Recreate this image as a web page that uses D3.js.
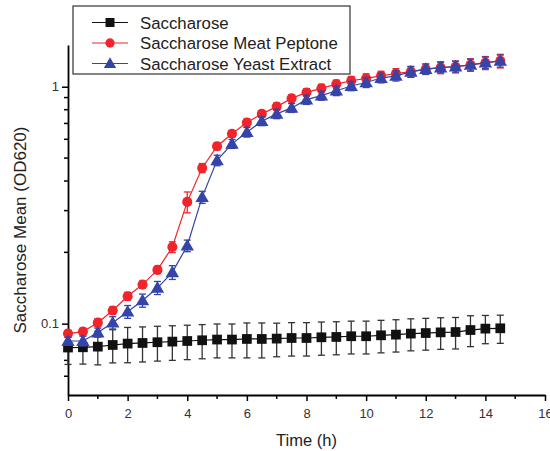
<!DOCTYPE html>
<html>
<head>
<meta charset="utf-8">
<script src="https://cdnjs.cloudflare.com/ajax/libs/d3/7.8.5/d3.min.js"></script>
<style>
  body { margin: 0; background: #fff; }
  text { font-family: "Liberation Sans", Arial, sans-serif; }
</style>
</head>
<body>
<svg id="chart"></svg>
<script>
const times = d3.range(0, 14.51, 0.5)

const saccharose = [0.0793, 0.0795, 0.0800, 0.0813, 0.0824, 0.0829, 0.0835, 0.0840, 0.0845, 0.0851,
    0.0857, 0.0857, 0.0862, 0.0862, 0.0865, 0.0870, 0.0870, 0.0876, 0.0879, 0.0885,
    0.0885, 0.0893, 0.0899, 0.0908, 0.0913, 0.0919, 0.0922, 0.0940, 0.0953, 0.0956]
const saccharoseErr = [0.012, 0.012, 0.013, 0.013, 0.014, 0.014, 0.014, 0.014, 0.014, 0.014,
    0.014, 0.014, 0.0145, 0.0145, 0.014, 0.014, 0.014, 0.014, 0.014, 0.014,
    0.014, 0.014, 0.014, 0.014, 0.014, 0.014, 0.014, 0.014, 0.013, 0.013]

const meatPeptone = [0.0908, 0.0926, 0.101, 0.1137, 0.1306, 0.1462, 0.1686, 0.2106, 0.3266, 0.454,
    0.561, 0.633, 0.706, 0.768, 0.824, 0.893, 0.946, 0.984, 1.026, 1.060,
    1.084, 1.112, 1.137, 1.159, 1.187, 1.205, 1.213, 1.237, 1.261, 1.285]
const meatPeptoneErr = [0.003, 0.003, 0.004, 0.004, 0.005, 0.005, 0.006, 0.011, 0.033, 0.02,
    0.02, 0.02, 0.025, 0.025, 0.03, 0.03, 0.035, 0.04, 0.04, 0.045,
    0.05, 0.05, 0.055, 0.06, 0.06, 0.07, 0.07, 0.075, 0.08, 0.085]

const yeastExtract = [0.0845, 0.0845, 0.0917, 0.101, 0.1123, 0.1253, 0.1417, 0.1647, 0.2133, 0.342,
    0.489, 0.574, 0.643, 0.715, 0.768, 0.814, 0.882, 0.917, 0.962, 1.007,
    1.042, 1.088, 1.112, 1.156, 1.187, 1.205, 1.217, 1.237, 1.264, 1.285]
const yeastExtractErr = [0.003, 0.004, 0.004, 0.006, 0.007, 0.008, 0.009, 0.011, 0.012, 0.02,
    0.025, 0.025, 0.03, 0.03, 0.035, 0.035, 0.04, 0.04, 0.045, 0.045,
    0.05, 0.05, 0.055, 0.06, 0.06, 0.06, 0.065, 0.07, 0.07, 0.075]

const xTicks = [0, 2, 4, 6, 8, 10, 12, 14, 16]
const yTicks = [0.1, 1]
const legendNames = ['Saccharose', 'Saccharose Meat Peptone', 'Saccharose Yeast Extract']

const width = 550
const height = 451
const svg = d3.select('#chart').attr('width', width).attr('height', height)

const xScale = d3.scaleLinear().domain([0, 16]).range([68, 545])
const yScale = d3.scaleLog().domain([0.05, 1.5]).range([395, 45])

const series = [
    {name: legendNames[0], values: saccharose, err: saccharoseErr, color: '#111111', shape: d3.symbolSquare, size: 95},
    {name: legendNames[1], values: meatPeptone, err: meatPeptoneErr, color: '#f0242a', shape: d3.symbolCircle, size: 80},
    {name: legendNames[2], values: yeastExtract, err: yeastExtractErr, color: '#3444a8', shape: d3.symbolTriangle, size: 78}
]

// axes
const xAxis = svg.append('g')
    .attr('transform', `translate(0,${yScale.range()[0]})`)
    .call(d3.axisBottom(xScale).tickValues(xTicks).tickSize(6).tickSizeOuter(0).tickFormat(d3.format('d')))
xAxis.selectAll('line.minor').data(d3.range(1, 16, 2)).enter().append('line')
    .attr('class', 'minor')
    .attr('x1', d => xScale(d)).attr('x2', d => xScale(d))
    .attr('y1', 0).attr('y2', 4)
    .attr('stroke', '#000').attr('stroke-width', 1.5)

const yMinor = [0.06, 0.07, 0.08, 0.09, 0.2, 0.3, 0.4, 0.5, 0.6, 0.7, 0.8, 0.9]
const yAxis = svg.append('g')
    .attr('transform', `translate(${xScale.range()[0]},0)`)
    .call(d3.axisLeft(yScale).tickValues(yTicks).tickSize(6).tickSizeOuter(0).tickFormat(d => d === 1 ? '1' : '0.1'))
yAxis.selectAll('line.minor').data(yMinor).enter().append('line')
    .attr('class', 'minor')
    .attr('y1', d => yScale(d)).attr('y2', d => yScale(d))
    .attr('x1', 0).attr('x2', -4)
    .attr('stroke', '#000').attr('stroke-width', 1.5)

svg.selectAll('.domain').attr('stroke', '#000').attr('stroke-width', 1.8)
svg.selectAll('.tick line').attr('stroke', '#000').attr('stroke-width', 1.5)
svg.selectAll('.tick text').attr('font-size', 13).attr('fill', '#333')
    .attr('font-family', '"Liberation Sans", Arial, sans-serif')
xAxis.selectAll('.tick text').attr('dy', '1.05em')

svg.append('text')
    .attr('x', (xScale(0) + xScale(16)) / 2)
    .attr('y', 446)
    .attr('text-anchor', 'middle')
    .attr('font-size', 16.5)
    .attr('fill', '#222')
    .text('Time (h)')

svg.append('text')
    .attr('transform', `translate(26,230) rotate(-90)`)
    .attr('text-anchor', 'middle')
    .attr('font-size', 17)
    .attr('fill', '#222')
    .text('Saccharose Mean (OD620)')

// series
const line = d3.line().x(d => xScale(d.t)).y(d => yScale(d.v))
series.forEach(s => {
    const pts = times.map((t, i) => ({t: t, v: s.values[i], e: s.err[i]}))
    const g = svg.append('g')
    g.append('path').datum(pts)
        .attr('d', line)
        .attr('fill', 'none')
        .attr('stroke', s.color)
        .attr('stroke-width', 1.2)
    const eb = g.selectAll('g.err').data(pts).enter().append('g')
        .attr('stroke', s.name === legendNames[0] ? '#333' : s.color)
        .attr('stroke-width', 1.3)
    eb.append('line')
        .attr('x1', d => xScale(d.t)).attr('x2', d => xScale(d.t))
        .attr('y1', d => yScale(d.v + d.e)).attr('y2', d => yScale(d.v - d.e))
    eb.append('line')
        .attr('x1', d => xScale(d.t) - 3.5).attr('x2', d => xScale(d.t) + 3.5)
        .attr('y1', d => yScale(d.v + d.e)).attr('y2', d => yScale(d.v + d.e))
    eb.append('line')
        .attr('x1', d => xScale(d.t) - 3.5).attr('x2', d => xScale(d.t) + 3.5)
        .attr('y1', d => yScale(d.v - d.e)).attr('y2', d => yScale(d.v - d.e))
    g.selectAll('path.mark').data(pts).enter().append('path')
        .attr('class', 'mark')
        .attr('d', d3.symbol().type(s.shape).size(s.size))
        .attr('transform', d => `translate(${xScale(d.t)},${yScale(d.v) + (s.shape === d3.symbolTriangle ? 1 : 0)})`)
        .attr('fill', s.color)
})

// legend
const legend = svg.append('g')
legend.append('rect')
    .attr('x', 73).attr('y', 6).attr('width', 277).attr('height', 68)
    .attr('fill', '#fff').attr('stroke', '#333').attr('stroke-width', 1.2)
series.forEach((s, i) => {
    const ly = 22.5 + i * 20.5
    legend.append('line')
        .attr('x1', 92).attr('x2', 128).attr('y1', ly).attr('y2', ly)
        .attr('stroke', s.color).attr('stroke-width', 1.2)
    legend.append('path')
        .attr('d', d3.symbol().type(s.shape).size(s.size * 0.85))
        .attr('transform', `translate(110,${ly + (s.shape === d3.symbolTriangle ? 1 : 0)})`)
        .attr('fill', s.color)
    legend.append('text')
        .attr('x', 140).attr('y', ly)
        .attr('dy', '0.36em')
        .attr('font-size', 16.8)
        .attr('fill', '#222')
        .text(s.name)
})
</script>
</body>
</html>
